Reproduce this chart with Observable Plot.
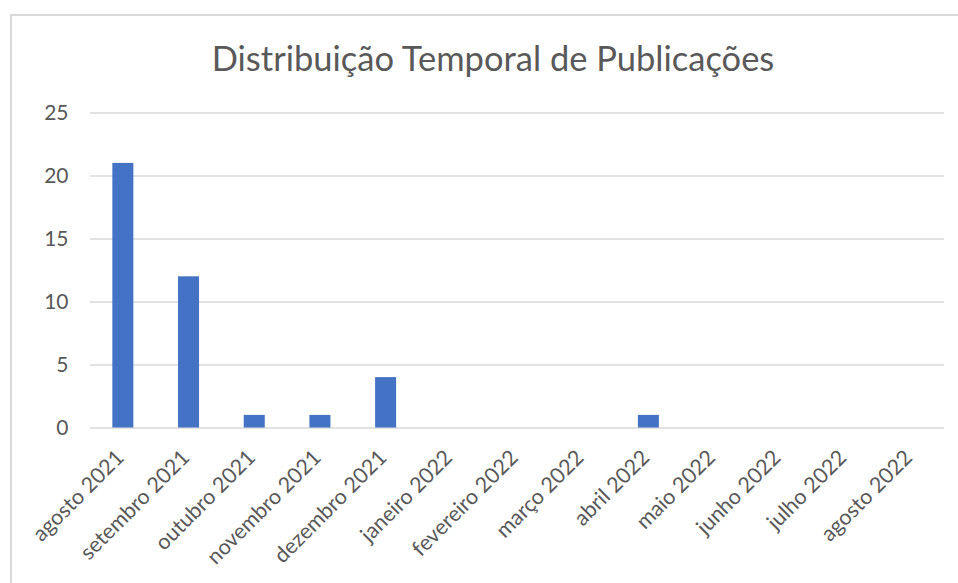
<!DOCTYPE html>
<html>
<head>
<meta charset="utf-8">
<script src="https://cdn.jsdelivr.net/npm/d3@7"></script>
<script src="https://cdn.jsdelivr.net/npm/@observablehq/plot@0.6"></script>
<style>
  html, body { margin: 0; padding: 0; background: #fff; overflow: hidden; }
  #wrap { position: relative; width: 958px; height: 583px; overflow: hidden; }
  #border { position: absolute; left: 10px; top: 14px; width: 1000px; height: 1000px; border: 2px solid #d9d9d9; box-sizing: border-box; }
  #title { position: absolute; left: 0; width: 986px; top: 37px; text-align: center; font-family: Lato, sans-serif; font-size: 34.5px; line-height: 1.2; color: #595959; white-space: nowrap; }
  #chart { position: absolute; left: 0; top: 0; }
</style>
</head>
<body>
<div id="wrap">
  <div id="border"></div>
  <div id="title">Distribuição Temporal de Publicações</div>
  <div id="chart"></div>
</div>
<script>
const months = ["agosto 2021", "setembro 2021", "outubro 2021", "novembro 2021", "dezembro 2021", "janeiro 2022", "fevereiro 2022", "março 2022", "abril 2022", "maio 2022", "junho 2022", "julho 2022", "agosto 2022"];
const counts = [21, 12, 1, 1, 4, 0, 0, 0, 1, 0, 0, 0, 0];
const yTicks = [0, 5, 10, 15, 20, 25];

const data = months.map((m, i) => ({month: m, count: counts[i]}));

const plot = Plot.plot({
  width: 958,
  height: 583,
  marginLeft: 90,
  marginRight: 14,
  marginTop: 112.5,
  marginBottom: 155.5,
  style: {fontFamily: "Lato, sans-serif", fontSize: "21px", color: "#595959", background: "transparent"},
  x: {domain: months, paddingInner: 0.68, paddingOuter: 0.34, round: false, label: null},
  y: {domain: [0, 25], label: null},
  marks: [
    Plot.ruleY(yTicks, {stroke: "#d9d9d9", strokeWidth: 1.6}),
    Plot.barY(data, {x: "month", y: "count", fill: "#4472c4"}),
    Plot.axisX({tickSize: 0, tickRotate: -45, tickPadding: 26, dx: -3, fontSize: 21.5, fill: "#595959", label: null}),
    Plot.axisY({ticks: yTicks, tickSize: 0, tickPadding: 22, fontSize: 21, fill: "#595959", label: null})
  ]
});
document.getElementById("chart").appendChild(plot);
</script>
</body>
</html>
